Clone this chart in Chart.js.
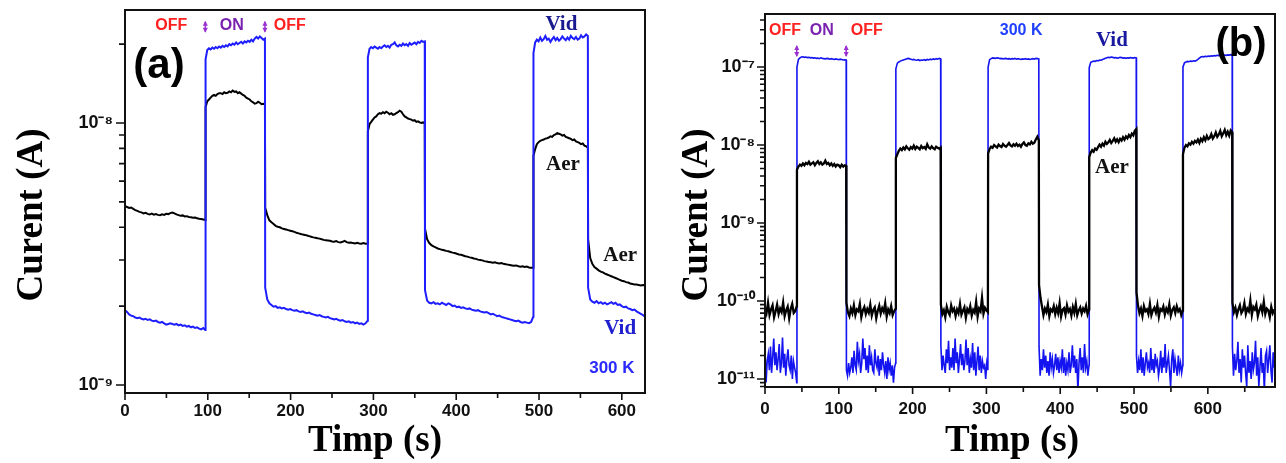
<!DOCTYPE html>
<html>
<head>
<meta charset="utf-8">
<script src="https://cdn.jsdelivr.net/npm/chart.js@4.4.1/dist/chart.umd.min.js"></script>
<style>
  html, body { margin: 0; padding: 0; background: #fff; }
  #wrap { position: relative; width: 1286px; height: 463px; overflow: hidden; }
  canvas { position: absolute; top: 0; }
  #cA { left: 0; }
  #cB { left: 655px; }
</style>
</head>
<body>
<div id="wrap">
  <canvas id="cA" width="655" height="463"></canvas>
  <canvas id="cB" width="631" height="463"></canvas>
</div>
<script>
// ---------------- Panel (a) ----------------
// switching instants (s): dark / illuminated intervals alternate
const edgesA = [0, 97, 169, 293, 362, 493, 559, 628];
// Vid (vacuum) current in each interval, nA
const vidA = [
  [1.93,1.90,1.86,1.84,1.83,1.81,1.80,1.81,1.79,1.78,1.79,1.77,1.78,1.76,1.75,1.76,1.74,1.73,1.74,1.72,1.70,1.71,1.72,1.71,1.70,1.71,1.69,1.70,1.68,1.69,1.67,1.68,1.66,1.67,1.65,1.66,1.64,1.63,1.65,1.62],
  [17.5,19.0,19.3,19.1,19.4,19.2,19.5,19.3,19.6,19.4,19.7,19.5,19.8,19.6,20.0,19.8,20.1,19.9,20.3,20.0,20.2,20.4,20.1,20.5,20.3,20.6,20.4,20.8,20.5,21.0,21.3,21.0,21.4,21.1,20.8,21.0],
  [2.35,2.12,2.05,2.02,1.99,2.00,1.97,1.98,1.96,1.97,1.95,1.94,1.95,1.93,1.92,1.93,1.91,1.90,1.91,1.89,1.88,1.89,1.87,1.86,1.85,1.84,1.85,1.83,1.82,1.81,1.82,1.80,1.79,1.78,1.79,1.77,1.76,1.77,1.75,1.74,1.75,1.73,1.74,1.72,1.73,1.71,1.72,1.70,1.72,1.76],
  [17.8,19.2,19.5,19.3,19.6,19.4,19.2,19.5,19.3,19.6,19.8,19.5,19.7,19.4,19.9,20.0,20.3,19.8,19.6,19.9,19.7,20.1,19.8,20.0,19.7,20.2,19.9,20.1,20.3,20.0,20.4,20.2,20.6,20.4,20.5],
  [2.30,2.10,2.06,2.05,2.07,2.04,2.05,2.03,2.06,2.04,2.02,2.05,2.03,2.00,2.01,1.98,1.99,1.97,1.98,1.96,1.95,1.96,1.94,1.93,1.92,1.93,1.91,1.90,1.89,1.90,1.88,1.86,1.87,1.85,1.83,1.84,1.82,1.81,1.80,1.79,1.78,1.77,1.76,1.75,1.76,1.74,1.73,1.74,1.73,1.72,1.74,1.82],
  [18.5,20.3,20.8,20.5,21.2,20.6,20.9,21.5,20.8,21.0,20.4,20.9,21.3,20.7,21.1,20.6,20.9,21.4,21.0,20.7,21.2,20.8,21.5,21.1,20.9,21.3,20.8,21.0,21.6,21.2,21.4,21.8,21.5],
  [2.35,2.12,2.08,2.06,2.09,2.05,2.07,2.04,2.06,2.03,2.05,2.07,2.04,2.06,2.02,2.03,2.00,1.98,1.99,1.96,1.95,1.93,1.94,1.91,1.89,1.87,1.85,1.82]
];
// Aer (air) current in each interval, nA
const aerA = [
  [4.82,4.78,4.74,4.76,4.70,4.65,4.62,4.58,4.56,4.52,4.54,4.50,4.48,4.51,4.47,4.49,4.46,4.45,4.48,4.46,4.50,4.49,4.53,4.55,4.52,4.48,4.45,4.43,4.44,4.40,4.41,4.38,4.37,4.35,4.36,4.33,4.31,4.30,4.28,4.26],
  [11.5,12.1,12.3,12.5,12.7,12.8,12.7,12.9,13.0,13.0,12.9,13.1,13.0,13.05,13.2,13.1,13.3,13.15,13.2,13.0,13.1,12.95,12.8,12.7,12.5,12.4,12.3,12.1,12.0,11.85,11.9,12.05,11.95,11.8,11.85,11.8],
  [4.75,4.45,4.25,4.18,4.12,4.05,4.02,4.00,3.96,3.94,3.92,3.90,3.88,3.86,3.84,3.81,3.79,3.77,3.75,3.74,3.72,3.70,3.68,3.66,3.65,3.63,3.62,3.60,3.58,3.57,3.56,3.55,3.53,3.52,3.54,3.51,3.50,3.52,3.55,3.51,3.49,3.50,3.48,3.47,3.49,3.47,3.46,3.48,3.46,3.47],
  [9.3,9.9,10.1,10.3,10.5,10.6,10.8,10.9,10.85,11.0,10.9,11.05,10.95,10.8,10.9,10.75,10.8,10.9,11.0,11.15,11.05,10.8,10.6,10.5,10.4,10.35,10.3,10.2,10.25,10.1,10.15,10.05,10.0,10.05,9.98],
  [3.95,3.60,3.48,3.42,3.38,3.35,3.32,3.30,3.28,3.27,3.25,3.24,3.22,3.20,3.19,3.17,3.15,3.14,3.12,3.10,3.09,3.07,3.06,3.04,3.03,3.01,3.00,2.99,2.97,2.96,2.95,2.94,2.93,2.94,2.92,2.91,2.92,2.90,2.89,2.88,2.87,2.86,2.85,2.86,2.84,2.83,2.84,2.82,2.83,2.81,2.80,2.80],
  [7.5,7.95,8.3,8.45,8.55,8.6,8.65,8.72,8.75,8.8,8.9,8.85,9.0,9.05,9.15,9.1,9.05,8.95,9.0,8.85,8.8,8.75,8.7,8.6,8.65,8.5,8.45,8.4,8.3,8.35,8.2,8.15,8.05],
  [3.60,3.05,2.90,2.82,2.78,2.74,2.71,2.69,2.66,2.64,2.62,2.60,2.58,2.56,2.54,2.52,2.50,2.49,2.47,2.46,2.44,2.43,2.42,2.42,2.41,2.40,2.41,2.40]
];
const xTicksA = [0, 100, 200, 300, 400, 500, 600];
const yTicksA = [1e-9, 1e-8];

// ---------------- Panel (b) ----------------
const edgesB = [0, 43, 110, 177, 238, 302, 371, 439, 503, 566, 633, 690];
// dark intervals in pA, illuminated intervals in nA
const vidB = [
  [24,9,17,21,13,26,12,19,33,15,22,13,18,28,12,16,34,14,21,11,18,24,15,13,20,10,17,14,12,9],
  [100,125,131,134,135,133,134,132,133,131,132,130,131,129,130,128,131,129,128,127,129,128,126,128,127,125,127,126,124,126,125,123,124,123],
  [13,11,16,12,14,19,12,23,15,13,30,17,21,12,16,33,18,25,13,20,12,27,15,19,13,12,24,16,14,20,11,18,13,22,15,12,17,10,19,13,16,11,15,9,14,16],
  [95,112,116,119,121,123,125,127,129,128,126,124,125,123,122,124,121,123,122,124,122,125,123,126,124,127,125,128,126,129,127],
  [27,13,20,15,12,24,16,31,13,19,14,25,13,33,16,22,12,18,28,15,21,13,17,32,15,25,12,18,14,29,13,22,11,17,26,13,20,12,17,14,15,10,16,13],
  [100,124,128,131,130,129,131,130,128,129,127,128,129,127,128,126,128,127,129,126,128,127,125,127,126,128,126,127,125,127,128,126,129,128,127],
  [26,11,18,13,24,14,20,12,17,11,22,14,18,12,15,21,13,19,12,17,14,24,12,19,11,16,13,22,12,15,27,14,20,12,18,7,16,25,13,19,12,28,14,17,11,15],
  [98,115,117,119,118,121,120,123,122,125,127,129,131,133,132,134,133,131,132,130,131,133,132,130,131,129,131,130,132,131,130,132,131],
  [20,12,17,13,24,12,19,11,16,22,14,16,12,25,13,18,12,21,15,17,11,14,23,12,19,14,28,12,16,20,13,8,18,24,12,18,14,11,20,13,16,12,15],
  [100,113,116,118,117,119,118,120,119,121,125,130,134,136,135,137,136,138,137,139,138,140,139,141,140,142,141,143,142,141,143,142,144,143],
  [26,11,21,13,17,30,12,18,9,24,14,20,12,8,27,12,17,10,22,13,16,31,11,19,8,14,25,12,16,7,20,23,12,18,27,13,9,22,14]
];
const aerB = [
  [82,70,95,66,78,88,62,74,90,68,80,72,96,64,76,85,60,79,92,70,74,86],
  [4.8,5.3,5.6,5.4,5.8,5.5,5.9,5.7,6.1,5.6,5.8,6.0,5.5,5.9,6.2,5.7,6.0,5.6,5.8,6.3,5.7,5.9,5.5,5.8,5.4,5.7,5.3,5.6,5.5,5.2,5.6,5.3,5.5,5.4],
  [95,72,64,80,70,88,66,78,74,92,62,76,84,68,79,71,90,65,77,83,60,75,87,69,81,73,94,63,78,70,86,66,74,80],
  [6.8,7.6,8.4,9.0,8.6,9.3,8.8,9.6,9.1,8.7,9.4,9.0,9.8,8.9,9.5,9.2,8.8,9.7,9.1,9.4,8.9,10.2,9.3,9.0,9.6,9.1,8.8,9.5,9.2,9.0,9.3],
  [90,68,76,62,84,72,66,88,74,80,64,78,70,92,67,75,83,61,79,72,86,65,77,71,98,63,80,74,110,69,82,76,72],
  [7.8,8.9,9.5,9.2,10.0,9.6,9.3,10.1,9.7,9.4,10.3,9.8,9.5,10.0,10.6,9.9,9.6,10.2,9.8,10.4,9.7,10.1,9.5,10.3,10.8,10.0,9.8,10.5,10.2,11.0,10.4,10.7,11.8,12.8,11.5],
  [160,110,85,66,80,72,90,64,78,74,86,68,82,70,94,63,77,81,67,88,73,79,65,84,71,92,66,76,83,69,80,74,87,68,78],
  [7.0,8.0,8.6,8.2,9.0,8.7,9.4,10.1,9.5,10.4,9.8,11.0,10.3,10.8,11.6,10.6,11.3,12.2,11.0,11.8,10.9,12.0,11.4,12.6,11.7,12.9,12.2,13.4,12.6,14.0,13.3,15.2,16.0],
  [130,88,70,80,64,86,74,78,68,92,66,76,82,71,89,63,79,75,85,67,80,72,91,65,77,83,70,86,74,79,66,76],
  [7.6,9.2,10.0,9.6,10.5,10.1,11.0,10.4,11.3,10.8,11.7,10.6,12.0,11.2,12.6,11.5,13.1,11.9,12.4,13.8,12.1,13.0,14.5,12.7,13.6,15.2,12.9,14.1,15.6,13.4,14.8,13.2,15.4,14.6],
  [95,72,82,66,78,88,70,76,94,68,80,74,102,66,84,78,90,64,76,86,72,98,68,80,76,62,84,70,78]
];
const xTicksB = [0, 100, 200, 300, 400, 500, 600];
const yTicksB = [1e-11, 1e-10, 1e-9, 1e-8, 1e-7];

const NANO = 1e-9, PICO = 1e-12;

// Spread each interval's readings evenly over its time span.
function buildSeries(edges, segs, unitOf) {
  const pts = [];
  segs.forEach((vals, k) => {
    const t0 = edges[k] + (k > 0 ? 0.3 : 0);
    const t1 = edges[k + 1];
    const n = vals.length;
    vals.forEach((v, i) => pts.push({ x: t0 + (t1 - t0) * i / (n - 1), y: v * unitOf(k) }));
  });
  return pts;
}

const SUP = { '-': '\u207B', '0': '\u2070', '1': '\u00B9', '2': '\u00B2', '3': '\u00B3', '4': '\u2074',
              '5': '\u2075', '6': '\u2076', '7': '\u2077', '8': '\u2078', '9': '\u2079' };
function powLabel(v) {
  const e = String(Math.round(Math.log10(v)));
  return '10' + e.split('').map(c => SUP[c]).join('');
}

// frame, outward tick marks, in-plot annotations and axis titles
const decor = {
  id: 'decor',
  afterDraw(chart, args, o) {
    const { ctx, chartArea: a, scales: { x, y } } = chart;
    ctx.save();
    ctx.strokeStyle = '#111';
    ctx.lineWidth = 1.6;
    ctx.beginPath();
    for (let v = x.min; v <= x.max + 1e-6; v += o.xMinorStep) {
      const px = x.getPixelForValue(v);
      const major = Math.abs(v % o.xMajorStep) < 1e-6;
      ctx.moveTo(px, a.bottom);
      ctx.lineTo(px, a.bottom + (major ? o.xMajorLen : o.xMinorLen));
    }
    const d0 = Math.floor(Math.log10(y.min)), d1 = Math.ceil(Math.log10(y.max));
    for (let d = d0; d <= d1; d++) {
      for (let m = 1; m <= 9; m++) {
        const v = m * Math.pow(10, d);
        if (v < y.min || v > y.max) continue;
        const py = y.getPixelForValue(v);
        ctx.moveTo(a.left, py);
        ctx.lineTo(a.left - (m === 1 ? o.yMajorLen : o.yMinorLen), py);
      }
    }
    ctx.stroke();

    ctx.lineWidth = o.frameWidth;
    ctx.strokeRect(a.left, a.top, a.right - a.left, a.bottom - a.top);

    // switching markers
    ctx.fillStyle = o.arrowColor;
    ctx.strokeStyle = o.arrowColor;
    ctx.lineWidth = 1.5;
    o.arrows.forEach(ar => {
      const px = x.getPixelForValue(ar.x), py = y.getPixelForValue(ar.y);
      ctx.beginPath();
      ctx.moveTo(px, py - 5); ctx.lineTo(px, py + 5); ctx.stroke();
      ctx.beginPath();
      ctx.moveTo(px - 2.5, py + 1); ctx.lineTo(px + 2.5, py + 1); ctx.lineTo(px, py + 6); ctx.closePath(); ctx.fill();
      ctx.beginPath();
      ctx.moveTo(px - 2.5, py - 1); ctx.lineTo(px + 2.5, py - 1); ctx.lineTo(px, py - 6); ctx.closePath(); ctx.fill();
    });

    ctx.textAlign = 'center';
    ctx.textBaseline = 'middle';
    o.notes.forEach(n => {
      ctx.font = n.font;
      ctx.fillStyle = n.color;
      ctx.fillText(n.text, x.getPixelForValue(n.x), y.getPixelForValue(n.y));
    });

    ctx.fillStyle = '#000';
    ctx.font = o.titleFont;
    ctx.fillText(o.xTitle.text, o.xTitle.cx, o.xTitle.cy);
    ctx.save();
    ctx.translate(o.yTitle.cx, o.yTitle.cy);
    ctx.rotate(-Math.PI / 2);
    ctx.fillText(o.yTitle.text, 0, 0);
    ctx.restore();
    ctx.restore();
  }
};

const SANS = '"Liberation Sans", Arial, sans-serif';
const SERIF = '"Liberation Serif", "Times New Roman", serif';

function makeChart(id, cfg) {
  return new Chart(document.getElementById(id), {
    type: 'line',
    data: { datasets: cfg.datasets },
    plugins: [decor],
    options: {
      responsive: false,
      animation: false,
      events: [],
      layout: { padding: cfg.padding },
      elements: { point: { radius: 0 }, line: { tension: 0 } },
      plugins: { legend: { display: false }, tooltip: { enabled: false }, decor: cfg.decor },
      scales: {
        x: {
          type: 'linear', min: cfg.xMin, max: cfg.xMax,
          afterFit(s) { s.height = cfg.xAxisHeight; s.paddingLeft = 0; s.paddingRight = 0; },
          afterBuildTicks(s) { s.ticks = cfg.xTicks.map(v => ({ value: v })); },
          grid: { display: false, drawTicks: false },
          border: { display: false },
          ticks: { padding: cfg.xPad, color: '#111', font: { family: SANS, size: 17, weight: 'bold' }, maxRotation: 0 }
        },
        y: {
          type: 'logarithmic', min: cfg.yMin, max: cfg.yMax,
          afterFit(s) { s.width = cfg.yAxisWidth; s.paddingTop = 0; s.paddingBottom = 0; },
          afterBuildTicks(s) { s.ticks = cfg.yTicks.map(v => ({ value: v })); },
          grid: { display: false, drawTicks: false },
          border: { display: false },
          ticks: { padding: cfg.yPad, color: '#111', font: { family: SANS, size: 18, weight: 'bold' }, callback: v => powLabel(v) }
        }
      }
    }
  });
}

const BLUE = '#1e1eff';

makeChart('cA', {
  datasets: [
    { label: 'Vid', data: buildSeries(edgesA, vidA, () => NANO), borderColor: BLUE, borderWidth: 2 },
    { label: 'Aer', data: buildSeries(edgesA, aerA, () => NANO), borderColor: '#000', borderWidth: 2 }
  ],
  padding: { left: 0, right: 10, top: 10, bottom: 0 },
  xMin: 0, xMax: 628, yMin: 9.32e-10, yMax: 2.70e-8,
  xTicks: xTicksA, yTicks: yTicksA,
  xAxisHeight: 70, yAxisWidth: 125, xPad: 8, yPad: 12,
  decor: {
    xMinorStep: 50, xMajorStep: 100, xMajorLen: 7, xMinorLen: 5, yMajorLen: 9, yMinorLen: 6, frameWidth: 2,
    arrowColor: '#9b30d0',
    arrows: [{ x: 97, y: 2.33e-8 }, { x: 169, y: 2.33e-8 }],
    notes: [
      { text: 'OFF', x: 56, y: 2.35e-8, color: '#ff2020', font: 'bold 16px ' + SANS },
      { text: 'ON', x: 129, y: 2.35e-8, color: '#7a22b0', font: 'bold 16px ' + SANS },
      { text: 'OFF', x: 199, y: 2.35e-8, color: '#ff2020', font: 'bold 16px ' + SANS },
      { text: '(a)', x: 41, y: 1.65e-8, color: '#000', font: 'bold 42px ' + SANS },
      { text: 'Vid', x: 527, y: 2.37e-8, color: '#1a1a90', font: 'bold 21px ' + SERIF },
      { text: 'Aer', x: 529, y: 6.91e-9, color: '#111', font: 'bold 21px ' + SERIF },
      { text: 'Aer', x: 598, y: 3.11e-9, color: '#111', font: 'bold 21px ' + SERIF },
      { text: 'Vid', x: 598, y: 1.64e-9, color: '#2020d0', font: 'bold 21px ' + SERIF },
      { text: '300 K', x: 588, y: 1.16e-9, color: '#2a2aff', font: 'bold 17px ' + SANS }
    ],
    titleFont: 'bold 37px ' + SERIF,
    xTitle: { text: 'Timp (s)', cx: 375, cy: 441 },
    yTitle: { text: 'Curent (A)', cx: 32, cy: 215 }
  }
});

makeChart('cB', {
  datasets: [
    { label: 'Aer', data: buildSeries(edgesB, aerB, k => (k % 2 ? NANO : PICO)), borderColor: '#000', borderWidth: 2.3 },
    { label: 'Vid', data: buildSeries(edgesB, vidB, k => (k % 2 ? NANO : PICO)), borderColor: '#1414f0', borderWidth: 1.6 }
  ],
  padding: { left: 0, right: 11, top: 14, bottom: 0 },
  xMin: 0, xMax: 691, yMin: 7.9e-12, yMax: 4.78e-7,
  xTicks: xTicksB, yTicks: yTicksB,
  xAxisHeight: 76, yAxisWidth: 110, xPad: 12, yPad: 10,
  decor: {
    xMinorStep: 50, xMajorStep: 100, xMajorLen: 7, xMinorLen: 5, yMajorLen: 8, yMinorLen: 5, frameWidth: 2,
    arrowColor: '#9b30d0',
    arrows: [{ x: 43, y: 1.6e-7 }, { x: 110, y: 1.6e-7 }],
    notes: [
      { text: 'OFF', x: 27, y: 2.9e-7, color: '#ff2020', font: 'bold 16px ' + SANS },
      { text: 'ON', x: 77, y: 2.9e-7, color: '#7a22b0', font: 'bold 16px ' + SANS },
      { text: 'OFF', x: 138, y: 2.9e-7, color: '#ff2020', font: 'bold 16px ' + SANS },
      { text: '300 K', x: 347, y: 2.9e-7, color: '#2040ff', font: 'bold 16px ' + SANS },
      { text: 'Vid', x: 470, y: 2.15e-7, color: '#1a1aa0', font: 'bold 21px ' + SERIF },
      { text: 'Aer', x: 470, y: 5.07e-9, color: '#111', font: 'bold 21px ' + SERIF },
      { text: '(b)', x: 645, y: 1.91e-7, color: '#000', font: 'bold 40px ' + SANS }
    ],
    titleFont: 'bold 37px ' + SERIF,
    xTitle: { text: 'Timp (s)', cx: 357, cy: 441 },
    yTitle: { text: 'Curent (A)', cx: 42, cy: 215 }
  }
});
</script>
</body>
</html>
